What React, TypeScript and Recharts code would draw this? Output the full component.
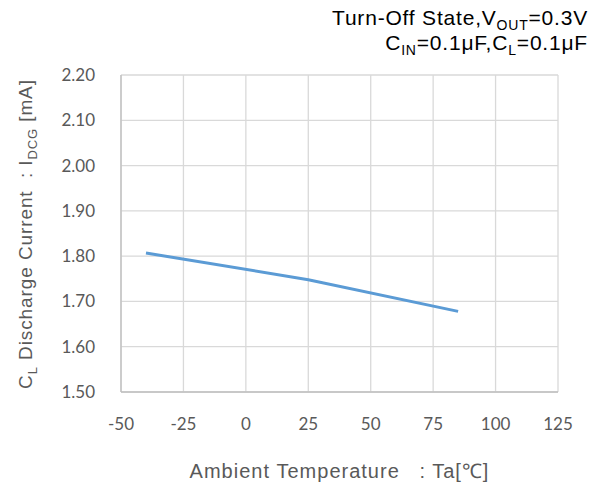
import { CartesianGrid, Line, LineChart, XAxis, YAxis } from "recharts";

// Ambient temperature (°C) vs CL discharge current (mA)
const temps = [-40, 25, 85];
const current = [1.807, 1.748, 1.678];
const xTicks = [-50, -25, 0, 25, 50, 75, 100, 125];
const yTicks = [1.5, 1.6, 1.7, 1.8, 1.9, 2.0, 2.1, 2.2];

const data = temps.map((t, i) => ({ ta: t, idcg: current[i] }));

const labelFont = "'Liberation Sans', Arial, sans-serif";
const tickFont = "Lato, 'Open Sans', sans-serif";

function YTitle() {
  return (
    <text
      x={25}
      y={234}
      transform="rotate(-90 25 234)"
      textAnchor="middle"
      dominantBaseline="central"
      fill="#595959"
      fontSize={19}
      letterSpacing={0.9}
      fontFamily={labelFont}
    >
      C<tspan fontSize={13} baselineShift="sub">L</tspan>
      <tspan>{"\u00a0Discharge\u00a0Current\u00a0\u00a0:\u00a0I"}</tspan>
      <tspan fontSize={13} baselineShift="sub">DCG</tspan>
      <tspan>{"\u00a0[mA]"}</tspan>
    </text>
  );
}

export default function App() {
  return (
    <div
      style={{
        position: "absolute",
        left: 0,
        top: 0,
        width: 603,
        height: 484,
        background: "#fff",
      }}
    >
      <div
        style={{
          position: "absolute",
          right: 15,
          top: 5,
          textAlign: "right",
          fontFamily: labelFont,
          fontSize: 21,
          letterSpacing: 0.8,
          lineHeight: "25px",
          color: "#000",
        }}
      >
        <div>
          Turn-Off State,V<sub style={{ fontSize: 14, lineHeight: 0 }}>OUT</sub>=0.3V
        </div>
        <div>
          C<sub style={{ fontSize: 14, lineHeight: 0 }}>IN</sub>=0.1μF,C
          <sub style={{ fontSize: 14, lineHeight: 0 }}>L</sub>=0.1μF
        </div>
      </div>

      <LineChart
        width={603}
        height={484}
        data={data}
        margin={{ top: 75, right: 45, left: 61, bottom: 62 }}
      >
        <CartesianGrid stroke="#d9d9d9" strokeWidth={1.3} />
        <XAxis
          type="number"
          dataKey="ta"
          domain={[-50, 125]}
          ticks={xTicks}
          height={30}
          axisLine={{ stroke: "#bfbfbf", strokeWidth: 1.3 }}
          tickLine={false}
          tickMargin={20}
          tick={{ fill: "#595959", fontSize: 17, fontFamily: tickFont }}
          label={{
            value: "Ambient\u00a0Temperature\u00a0\u00a0 : Ta[℃]",
            position: "insideBottom",
            offset: -56,
            fill: "#595959",
            fontSize: 20,
            letterSpacing: 1,
            fontFamily: labelFont,
          }}
        />
        <YAxis
          type="number"
          domain={[1.5, 2.2]}
          ticks={yTicks}
          width={60}
          axisLine={{ stroke: "#bfbfbf", strokeWidth: 1.3 }}
          tickLine={false}
          tickMargin={20}
          tickFormatter={(v: number) => v.toFixed(2)}
          tick={{ fill: "#595959", fontSize: 17, fontFamily: tickFont }}
          label={{ content: () => <YTitle /> }}
        />
        <Line
          type="linear"
          dataKey="idcg"
          stroke="#5b9bd5"
          strokeWidth={3}
          dot={false}
          isAnimationActive={false}
        />
      </LineChart>
    </div>
  );
}
